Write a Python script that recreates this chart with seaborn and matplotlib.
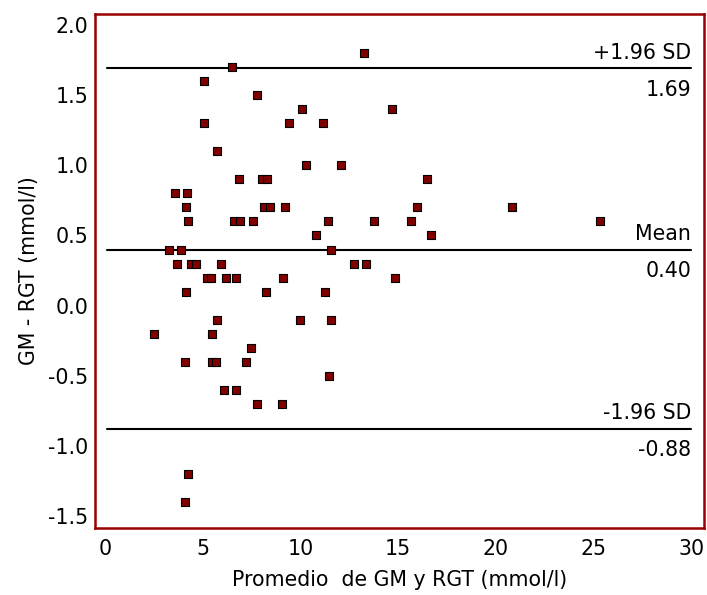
"""
Bland-Altman plot: GM vs RGT glucose measurements
"""

import numpy as np
import pandas as pd
import matplotlib
matplotlib.use("Agg")
import matplotlib.pyplot as plt
import seaborn as sns

# ---------- data ----------
promedio = [6.5, 5.05, 7.8, 10.1, 14.7, 5.05, 9.4, 11.15, 5.75, 10.3,
            12.1, 6.85, 8.05, 8.3, 16.5, 3.6, 4.2, 4.15, 8.15, 8.45,
            9.2, 15.95, 20.85, 13.25, 4.25, 6.6, 6.9, 7.6, 11.4, 13.75,
            15.65, 25.35, 10.8, 16.7, 3.3, 3.9, 11.55, 3.7, 4.4, 4.65,
            5.95, 12.75, 13.35, 5.2, 5.45, 6.2, 6.7, 9.1, 14.85, 4.15,
            8.25, 11.25, 5.75, 10.0, 11.55, 2.5, 5.5, 7.45, 4.1, 5.5,
            5.7, 7.2, 11.45, 6.1, 6.7, 7.8, 9.05, 4.25, 4.1]
diferencia = [1.7, 1.6, 1.5, 1.4, 1.4, 1.3, 1.3, 1.3, 1.1, 1.0,
              1.0, 0.9, 0.9, 0.9, 0.9, 0.8, 0.8, 0.7, 0.7, 0.7,
              0.7, 0.7, 0.7, 1.8, 0.6, 0.6, 0.6, 0.6, 0.6, 0.6,
              0.6, 0.6, 0.5, 0.5, 0.4, 0.4, 0.4, 0.3, 0.3, 0.3,
              0.3, 0.3, 0.3, 0.2, 0.2, 0.2, 0.2, 0.2, 0.2, 0.1,
              0.1, 0.1, -0.1, -0.1, -0.1, -0.2, -0.2, -0.3, -0.4, -0.4,
              -0.4, -0.4, -0.5, -0.6, -0.6, -0.7, -0.7, -1.2, -1.4]

ref_values = [1.69, 0.40, -0.88]
ref_names = ["+1.96 SD", "Mean", "-1.96 SD"]
ref_labels = ["1.69", "0.40", "-0.88"]

x_ticks = [0, 5, 10, 15, 20, 25, 30]
y_ticks = [-1.5, -1.0, -0.5, 0.0, 0.5, 1.0, 1.5, 2.0]

df = pd.DataFrame({"promedio": promedio, "diferencia": diferencia})

# ---------- plot ----------
sns.set_theme(style="white")
plt.rcParams["font.family"] = ["DejaVu Sans"]

FRAME = "#990000"
FS = 14.8

fig = plt.figure(figsize=(7.07, 5.95), dpi=100)
ax = fig.add_axes([0.1344, 0.1126, 0.8614, 0.8639])

# mean and limits of agreement
for v, name, lab in zip(ref_values, ref_names, ref_labels):
    ax.plot([0.1, 30.0], [v, v], color="black", lw=1.5, zorder=1)
    ax.annotate(name, xy=(30.0, v), xytext=(0, 7), textcoords="offset points",
                ha="right", va="baseline", fontsize=FS, color="black")
    ax.annotate(lab, xy=(30.0, v), xytext=(0, -8), textcoords="offset points",
                ha="right", va="top", fontsize=FS, color="black")

sns.scatterplot(data=df, x="promedio", y="diferencia", marker="s", s=34,
                color="#800000", edgecolor="black", linewidth=0.8, ax=ax, zorder=3)

ax.set_xlim(-0.51, 30.66)
ax.set_ylim(-1.584, 2.078)
ax.set_xticks(x_ticks)
ax.set_xticklabels([str(t) for t in x_ticks])
ax.set_yticks(y_ticks)
ax.set_yticklabels([f"{t:.1f}" for t in y_ticks])
ax.tick_params(axis="x", length=0, labelsize=FS, colors="black", pad=8)
ax.tick_params(axis="y", length=0, labelsize=FS, colors="black", pad=5)

ax.set_xlabel("Promedio  de GM y RGT (mmol/l)", fontsize=FS, color="black", labelpad=8)
ax.set_ylabel("GM - RGT (mmol/l)", fontsize=FS, color="black", labelpad=6)

for sp in ax.spines.values():
    sp.set_visible(True)
    sp.set_color(FRAME)
    sp.set_linewidth(1.8)

fig.savefig("out.png", dpi=100)
